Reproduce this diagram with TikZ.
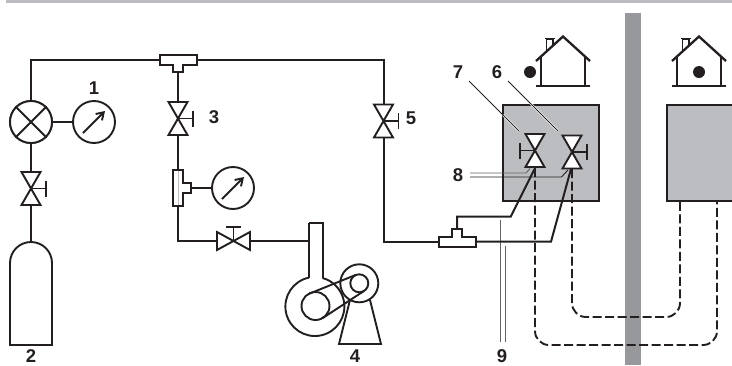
\documentclass[tikz,border=0pt]{standalone}
\usepackage{fontspec}
\setmainfont{Liberation Sans}
\usetikzlibrary{calc,arrows.meta}
\definecolor{boxgray}{HTML}{BCBDC0}
\definecolor{wallgray}{HTML}{97989B}
\definecolor{ink}{HTML}{231F20}
\tikzset{
  pipe/.style={draw=ink,line width=2pt},
  part/.style={draw=ink,line width=1.9pt},
  num/.style={font=\bfseries\fontsize{18.5}{18.5}\selectfont,text=ink,inner sep=0pt},
  gauge/.style={circle,draw=ink,line width=1.9pt,minimum size=42pt,inner sep=0pt,fill=white},
  fit dash/.style={draw=ink,line width=1.9pt,dash pattern=on 9pt off 3.5pt,rounded corners=14pt},
  leader/.style={draw=ink,line width=.9pt},
  halo/.style={draw=white,line width=2.4pt},
}
\newcommand{\vvalve}[2]{%
  \filldraw[fill=white,part,line join=miter]
    ($(#1)+(-9.5,-16.5)$) -- ($(#1)+(9.5,-16.5)$) -- ($(#1)+(-9.5,16.5)$) -- ($(#1)+(9.5,16.5)$) -- cycle;
  \draw[part] (#1) -- ($(#1)+(#2*15,0)$);
  \draw[part] ($(#1)+(#2*15,-8)$) -- ($(#1)+(#2*15,8)$);
}
\newcommand{\housemark}[1]{%
  \begin{scope}[shift={(#1)}]
    \draw[ink,line width=1.4pt] (-16.3,-9) -- (-16.3,-22) -- (-10,-22) -- (-10,-15);
    \draw[ink,line width=1.2pt] (-18,-22.5) -- (-8.5,-22.5);
    \draw[ink,line width=1.7pt] (-22,-4) -- (-22,25) (22,-4) -- (22,25);
    \draw[ink,line width=1.7pt] (-27,25) -- (27,25);
    \draw[ink,line width=2.3pt,line join=miter] (-27,0) -- (0,-24.5) -- (27,0);
  \end{scope}%
}
\begin{document}
\begin{tikzpicture}[x=1pt,y=-1pt]
\useasboundingbox (0,0) rectangle (732,365);
\fill[boxgray] (6,0) rectangle (732,3);
\fill[wallgray] (625,13) rectangle (641,365);
\filldraw[fill=boxgray,draw=ink,line width=2pt] (503,105) rectangle (599,201);
\fill[boxgray] (667,105) rectangle (732,201);
\draw[ink,line width=2pt] (732,105) -- (667,105) -- (667,201) -- (732,201);
\housemark{563,61}
\housemark{699,61}
\node[circle,fill=ink,minimum size=12pt,inner sep=0pt] (dotA) at (530,72) {};
\node[circle,fill=ink,minimum size=12pt,inner sep=0pt] (dotB) at (699,72) {};

\coordinate (vl) at (535,168);
\coordinate (vr) at (572,169);
\coordinate (bA) at (717,201);
\coordinate (bB) at (680,201);
\draw[fit dash] (vl) -- (535,345) -- (717,345) -- (bA);
\draw[fit dash] (vr) -- (572,317) -- (680,317) -- (bB);

\node[gauge] (reg) at (31,122) {};
\node[gauge] (g1) at (94,122) {};
\node[gauge] (g2) at (233,188) {};
\draw[pipe] (reg) -- (g1);
\node[gauge] at (31,122) {};
\draw[part] (reg.north west) -- (reg.south east) (reg.north east) -- (reg.south west);
\draw[part,-{Straight Barb[length=7pt,width=9pt]}] (83,133) -- (105,111);
\draw[part,-{Straight Barb[length=7pt,width=9pt]}] (222,199) -- (244,177);

\draw[pipe] (reg.north) -- (31,60) -- (160,60);
\draw[pipe] (197,60) -- (383.5,60) -- (383.5,241.5) -- (439,241.5);
\draw[pipe] (178,72) -- (178,170);
\draw[pipe] (178,206) -- (178,241) -- (309,241);
\draw[pipe] (reg.south) -- (31,242);
\draw[pipe] (191,188) -- (g2.west);

\filldraw[fill=white,part] (160,55) -- (197,55) -- (197,65) -- (183,65) -- (183,72) -- (173,72) -- (173,65) -- (160,65) -- cycle;
\filldraw[fill=white,part] (173,170) -- (183,170) -- (183,183) -- (191,183) -- (191,193) -- (183,193) -- (183,206) -- (173,206) -- cycle;
\draw[boxgray,line width=.6pt] (178,171) -- (178,205);
\filldraw[fill=white,part] (439,236.7) -- (452,236.7) -- (452,229) -- (462,229) -- (462,236.7) -- (476,236.7) -- (476,246.7) -- (439,246.7) -- cycle;

\vvalve{31,188.5}{1}
\vvalve{178,118.5}{1}
\vvalve{383.5,121}{1}
\vvalve{535,150.5}{-1}
\vvalve{572,152}{1}
\filldraw[fill=white,part] (217,232) -- (217,250) -- (250,232) -- (250,250) -- cycle;
\draw[part] (233.5,241) -- (233.5,227) (226,227) -- (241,227);

\draw[halo] (503,115) -- (519,131);
\draw[halo] (530,103) -- (558,131);
\draw[leader] (469,81) -- (519,131);
\draw[leader] (508,81) -- (558,131);
\draw[leader,draw=ink!70] (470,173) -- (526,173) -- (530,168.5);
\draw[leader] (470,177) -- (561.5,177) -- (568,170);
\draw[leader,draw=ink!70] (500.7,220) -- (500.7,342);
\draw[leader,draw=ink!70] (505,246) -- (505,342);

\draw[pipe,line join=miter] (457,229) -- (457,216.7) -- (510.7,216.7) -- (534.5,169);
\draw[pipe,line join=miter] (476,241.7) -- (551,241.7) -- (571,169);

\draw[part] (10,345) -- (52,345) -- (52,263) arc[start angle=0,end angle=-180,radius=21] -- cycle;

\draw[part] (309,222.7) -- (322.7,222.7) -- (322.7,278);
\draw[part] (309,222.7) -- (309,278);
\draw[part] (309,277.6) arc[start angle=-101.5,end angle=-435,radius=29.5];
\coordinate (pc) at (315.5,306);
\coordinate (mc) at (359.3,283.3);
\node[circle,part,minimum size=28pt,inner sep=0pt] (sheaveA) at (pc) {};
\draw[part,fill=white] (350,300) -- (339,344) -- (381,344) -- (370,300);
\node[circle,part,minimum size=38pt,inner sep=0pt,fill=white] (motor) at (mc) {};
\node[circle,part,minimum size=18pt,inner sep=0pt] (sheaveB) at (mc) {};
\draw[part] (309,293.8) -- (355.5,275) (322.5,318.2) -- (363.8,291.1);

\node[num] (n1) at (94,88) {1};
\node[num] (n2) at (31,356) {2};
\node[num] (n3) at (214,117) {3};
\node[num] (n4) at (355,356) {4};
\node[num] (n5) at (411,118) {5};
\node[num] (n6) at (497,72) {6};
\node[num] (n7) at (458,72) {7};
\node[num] (n8) at (458,175) {8};
\node[num] (n9) at (502,356) {9};
\end{tikzpicture}
\end{document}
